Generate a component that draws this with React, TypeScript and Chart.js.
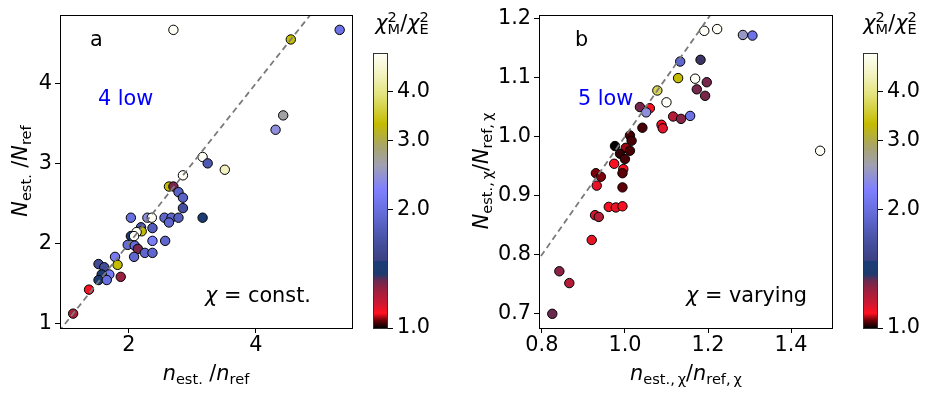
import React, { useEffect, useRef } from "react";
import { Chart, registerables } from "chart.js";
Chart.register(...registerables);

const FONT = "'DejaVu Sans', sans-serif";
const FS = 20.8;

// ---- Data: panel a (chi = const.) ----
const aX = [2.70, 4.55, 5.32, 4.43, 4.31, 3.16, 3.24, 3.51, 2.85, 2.63, 2.70, 2.78, 2.85, 2.85, 3.16, 2.03, 2.29, 2.36, 2.56, 2.67, 2.78, 2.63, 2.37, 2.19, 2.20, 2.12, 2.03, 2.08, 2.37, 2.57, 1.98, 2.09, 2.14, 2.08, 2.25, 2.37, 1.78, 1.82, 1.52, 1.61, 1.69, 1.57, 1.52, 1.65, 1.87, 1.37, 1.12];
const aY = [4.67, 4.55, 4.67, 3.60, 3.42, 3.08, 3.00, 2.92, 2.85, 2.71, 2.71, 2.64, 2.57, 2.44, 2.32, 2.32, 2.32, 2.32, 2.32, 2.32, 2.32, 2.26, 2.19, 2.20, 2.15, 2.14, 2.09, 2.09, 2.03, 2.03, 1.98, 1.97, 1.93, 1.83, 1.88, 1.88, 1.83, 1.73, 1.74, 1.70, 1.61, 1.61, 1.54, 1.54, 1.58, 1.42, 1.12];
const aC = [5.0, 3.3, 2.05, 2.65, 2.4, 5.0, 1.75, 4.4, 5.0, 3.3, 1.3, 1.85, 1.85, 1.65, 1.42, 2.0, 2.4, 5.0, 1.9, 1.9, 1.8, 1.9, 1.8, 1.7, 3.3, 5.0, 1.42, 5.0, 2.2, 1.9, 1.95, 1.95, 1.3, 1.9, 1.9, 1.9, 2.15, 3.3, 1.6, 1.6, 2.15, 1.38, 1.42, 2.0, 1.25, 1.1, 1.22];

// ---- Data: panel b (chi = varying) ----
const bX = [1.191, 1.222, 1.284, 1.307, 1.133, 1.182, 1.128, 1.169, 1.197, 1.173, 1.193, 1.078, 1.100, 1.036, 1.060, 1.051, 1.116, 1.135, 1.157, 1.088, 1.091, 1.042, 1.012, 1.016, 0.976, 1.002, 1.012, 0.988, 1.000, 0.974, 0.996, 0.994, 0.930, 0.942, 0.932, 0.994, 0.961, 0.978, 0.994, 0.928, 0.937, 0.920, 0.842, 0.866, 0.825, 1.470];
const bY = [1.179, 1.182, 1.172, 1.171, 1.127, 1.130, 1.099, 1.098, 1.092, 1.080, 1.069, 1.078, 1.058, 1.050, 1.048, 1.041, 1.034, 1.030, 1.035, 1.020, 1.014, 1.015, 1.002, 0.993, 0.984, 0.981, 0.976, 0.971, 0.962, 0.954, 0.945, 0.938, 0.938, 0.932, 0.917, 0.914, 0.881, 0.880, 0.882, 0.867, 0.864, 0.825, 0.772, 0.752, 0.700, 0.976];
const bC = [5.0, 5.0, 2.5, 2.05, 1.9, 1.35, 3.3, 5.0, 1.3, 1.3, 1.3, 3.7, 5.0, 1.3, 1.1, 2.4, 1.2, 1.28, 2.05, 1.1, 1.13, 1.03, 1.03, 1.03, 1.0, 1.06, 1.03, 1.02, 1.03, 1.1, 1.1, 1.04, 1.05, 1.05, 1.12, 1.04, 1.1, 1.12, 1.1, 1.15, 1.2, 1.12, 1.27, 1.2, 1.32, 5.0];

// ---- Ticks ----
const aXTicks = [2, 4];
const aYTicks = [1, 2, 3, 4];
const bXTicks = [0.8, 1.0, 1.2, 1.4];
const bYTicks = [0.7, 0.8, 0.9, 1.0, 1.1, 1.2];
const cbTicks = [1.0, 2.0, 3.0, 4.0];
const cbRange = [1, 5];

// ---- Colormap stops ----
const cmV = [1.0, 1.045, 1.09, 1.15, 1.25, 1.32, 1.37, 1.48, 1.481, 1.7, 2.0, 2.25, 2.6, 2.9, 3.3, 3.9, 4.4, 5.0];
const cmC = ["#000000", "#6a0008", "#ff1020", "#d01830", "#9a2040", "#6a2a50", "#1e3a6e", "#1a3d78", "#3a4080", "#4a54a8", "#6870e0", "#8080ff", "#a0a0b0", "#a8a468", "#c4bc00", "#e2e27a", "#f2f2c0", "#fffff8"];

function hex(c: string) {
  return [parseInt(c.slice(1, 3), 16), parseInt(c.slice(3, 5), 16), parseInt(c.slice(5, 7), 16)];
}
function cmap(v: number) {
  const lv = Math.log(Math.max(cmV[0], Math.min(cmV[cmV.length - 1], v)));
  for (let i = 0; i < cmV.length - 1; i++) {
    const l0 = Math.log(cmV[i]), l1 = Math.log(cmV[i + 1]);
    if (lv <= l1 || i === cmV.length - 2) {
      const t = l1 > l0 ? Math.max(0, Math.min(1, (lv - l0) / (l1 - l0))) : 0;
      const c0 = hex(cmC[i]), c1 = hex(cmC[i + 1]);
      const c = c0.map((a, k) => Math.round(a + (c1[k] - a) * t));
      return `rgb(${c[0]},${c[1]},${c[2]})`;
    }
  }
  return cmC[cmC.length - 1];
}

type Seg = { t: string; it?: boolean; sub?: string; sup?: string };
function drawRich(ctx: CanvasRenderingContext2D, segs: Seg[], x: number, y: number, size: number, align: "left" | "center", rot = 0, color = "#000") {
  const sm = size * 0.7;
  ctx.save();
  ctx.translate(x, y);
  ctx.rotate(rot);
  ctx.textBaseline = "alphabetic";
  ctx.textAlign = "left";
  ctx.fillStyle = color;
  let w = 0;
  const parts = segs.map((s) => {
    ctx.font = `${s.it ? "italic " : ""}${size}px ${FONT}`;
    const wm = ctx.measureText(s.t).width;
    ctx.font = `${sm}px ${FONT}`;
    const ws = Math.max(s.sub ? ctx.measureText(s.sub).width : 0, s.sup ? ctx.measureText(s.sup).width : 0);
    w += wm + ws;
    return { wm, ws };
  });
  let cx = align === "center" ? -w / 2 : 0;
  segs.forEach((s, i) => {
    ctx.font = `${s.it ? "italic " : ""}${size}px ${FONT}`;
    ctx.fillText(s.t, cx, 0);
    cx += parts[i].wm;
    ctx.font = `${sm}px ${FONT}`;
    if (s.sup) ctx.fillText(s.sup, cx, -size * 0.4);
    if (s.sub) ctx.fillText(s.sub, cx, size * 0.18);
    cx += parts[i].ws;
  });
  ctx.restore();
}

type Ann = { segs: Seg[]; x: number; y: number; align: "left" | "center"; rot?: number; color?: string; size?: number };

function scatterChart(canvas: HTMLCanvasElement, xs: number[], ys: number[], cs: number[], xr: number[], yr: number[], xt: number[], yt: number[], yw: number, padR: number, dec: number, anns: Ann[]) {
  const pts = xs.map((x, i) => ({ x, y: ys[i] }));
  const lo = Math.min(xr[0], yr[0]) - 1, hi = Math.max(xr[1], yr[1]) + 1;
  const tickFont = { family: FONT, size: FS };
  return new Chart(canvas, {
    type: "scatter",
    data: {
      datasets: [
        { type: "line", data: [{ x: lo, y: lo }, { x: hi, y: hi }], borderColor: "#7a7a7a", borderDash: [6, 4], borderWidth: 1.8, pointRadius: 0, fill: false, order: 0 } as any,
        { data: pts, backgroundColor: cs.map(cmap), borderColor: "#000", borderWidth: 1, pointRadius: 4.7, order: 1 },
      ],
    },
    options: {
      responsive: false,
      animation: false,
      devicePixelRatio: 1,
      events: [],
      layout: { padding: { left: 0, right: padR, top: 14, bottom: 0 } },
      plugins: { legend: { display: false }, tooltip: { enabled: false } },
      scales: {
        x: {
          type: "linear", min: xr[0], max: xr[1],
          afterFit: (s: any) => { s.height = 69; },
          afterBuildTicks: (s: any) => { s.ticks = xt.map((v) => ({ value: v })); },
          ticks: { font: tickFont, color: "#000", padding: 0, maxRotation: 0, callback: (v: any) => Number(v).toFixed(dec) },
          grid: { drawOnChartArea: false, drawTicks: true, tickLength: 5, color: "#000", lineWidth: 1 },
          border: { display: false },
        },
        y: {
          type: "linear", min: yr[0], max: yr[1],
          afterFit: (s: any) => { s.width = yw; },
          afterBuildTicks: (s: any) => { s.ticks = yt.map((v) => ({ value: v })); },
          ticks: { font: tickFont, color: "#000", padding: 3, callback: (v: any) => Number(v).toFixed(dec) },
          grid: { drawOnChartArea: false, drawTicks: true, tickLength: 5, color: "#000", lineWidth: 1 },
          border: { display: false },
        },
      },
    } as any,
    plugins: [
      {
        id: "frameText",
        afterDraw(chart: any) {
          const ctx = chart.ctx as CanvasRenderingContext2D;
          const a = chart.chartArea;
          ctx.save();
          ctx.strokeStyle = "#000";
          ctx.lineWidth = 1;
          ctx.strokeRect(Math.round(a.left) + 0.5, Math.round(a.top) + 0.5, Math.round(a.right - a.left) - 1, Math.round(a.bottom - a.top));
          ctx.restore();
          anns.forEach((an) => drawRich(ctx, an.segs, an.x, an.y, an.size || FS, an.align, an.rot || 0, an.color || "#000"));
        },
      },
    ],
  });
}

function colorbarChart(canvas: HTMLCanvasElement, padL: number, yw: number, titleX: number) {
  return new Chart(canvas, {
    type: "scatter",
    data: { datasets: [{ data: [] }] },
    options: {
      responsive: false,
      animation: false,
      devicePixelRatio: 1,
      events: [],
      layout: { padding: { left: padL, right: 0, top: 53, bottom: 69 } },
      plugins: { legend: { display: false }, tooltip: { enabled: false } },
      scales: {
        x: { type: "linear", display: false, min: 0, max: 1 },
        y: {
          type: "logarithmic", position: "right", min: cbRange[0], max: cbRange[1],
          afterFit: (s: any) => { s.width = yw; },
          afterBuildTicks: (s: any) => { s.ticks = cbTicks.map((v) => ({ value: v })); },
          ticks: { font: { family: FONT, size: FS }, color: "#000", padding: 4, callback: (v: any) => Number(v).toFixed(1) },
          grid: { drawOnChartArea: false, drawTicks: true, tickLength: 5, color: "#000", lineWidth: 1 },
          border: { display: false },
        },
      },
    } as any,
    plugins: [
      {
        id: "cbGrad",
        beforeDatasetsDraw(chart: any) {
          const ctx = chart.ctx as CanvasRenderingContext2D;
          const a = chart.chartArea;
          const ys = chart.scales.y;
          for (let py = Math.floor(a.top); py < Math.ceil(a.bottom); py++) {
            const v = ys.getValueForPixel(py + 0.5);
            ctx.fillStyle = cmap(v);
            ctx.fillRect(a.left, py, a.right - a.left, 1);
          }
          ctx.save();
          ctx.strokeStyle = "#333";
          ctx.lineWidth = 1;
          ctx.strokeRect(Math.round(a.left) + 0.5, Math.round(a.top) + 0.5, Math.round(a.right - a.left) - 1, Math.round(a.bottom - a.top));
          ctx.restore();
          drawRich(ctx, [{ t: "χ", it: true, sup: "2", sub: "M" }, { t: "/" }, { t: "χ", it: true, sup: "2", sub: "E" }], titleX, 30, FS, "center");
        },
      },
    ],
  });
}

export default function App() {
  const aRef = useRef<HTMLCanvasElement>(null);
  const caRef = useRef<HTMLCanvasElement>(null);
  const bRef = useRef<HTMLCanvasElement>(null);
  const cbRef = useRef<HTMLCanvasElement>(null);

  useEffect(() => {
    const charts: Chart[] = [];
    charts.push(
      scatterChart(aRef.current!, aX, aY, aC, [0.913, 5.53], [0.94, 4.85], aXTicks, aYTicks, 60, 9, 0, [
        { segs: [{ t: "a" }], x: 90, y: 46, align: "left" },
        { segs: [{ t: "4 low" }], x: 98, y: 105, align: "left", color: "#0000ff" },
        { segs: [{ t: "χ", it: true }, { t: " = const." }], x: 205, y: 302, align: "left" },
        { segs: [{ t: "n", it: true, sub: "est." }, { t: " /" }, { t: "n", it: true, sub: "ref" }], x: 206, y: 380, align: "center" },
        { segs: [{ t: "N", it: true, sub: "est." }, { t: " /" }, { t: "N", it: true, sub: "ref" }], x: 27, y: 171, align: "center", rot: -Math.PI / 2 },
      ])
    );
    charts.push(colorbarChart(caRef.current!, 11, 82, 40));
    charts.push(
      scatterChart(bRef.current!, bX, bY, bC, [0.793, 1.501], [0.676, 1.205], bXTicks, bYTicks, 69, 7, 1, [
        { segs: [{ t: "b" }], x: 105, y: 46, align: "left" },
        { segs: [{ t: "5 low" }], x: 108, y: 105, align: "left", color: "#0000ff" },
        { segs: [{ t: "χ", it: true }, { t: " = varying" }], x: 216, y: 302, align: "left" },
        { segs: [{ t: "n", it: true, sub: "est.,\u2009χ" }, { t: "/" }, { t: "n", it: true, sub: "ref,\u2009χ" }], x: 216, y: 380, align: "center" },
        { segs: [{ t: "N", it: true, sub: "est.,\u2009χ" }, { t: "/" }, { t: "N", it: true, sub: "ref,\u2009χ" }], x: 18, y: 171, align: "center", rot: -Math.PI / 2 },
      ])
    );
    charts.push(colorbarChart(cbRef.current!, 23, 53, 50));
    return () => charts.forEach((c) => c.destroy());
  }, []);

  return (
    <div style={{ position: "fixed", left: 0, top: 0, width: 931, height: 397, background: "#fff", overflow: "hidden" }}>
      <canvas ref={aRef} width={362} height={397} style={{ position: "absolute", left: 0, top: 0 }} />
      <canvas ref={caRef} width={108} height={397} style={{ position: "absolute", left: 362, top: 0 }} />
      <canvas ref={bRef} width={370} height={397} style={{ position: "absolute", left: 470, top: 0 }} />
      <canvas ref={cbRef} width={91} height={397} style={{ position: "absolute", left: 840, top: 0 }} />
    </div>
  );
}
